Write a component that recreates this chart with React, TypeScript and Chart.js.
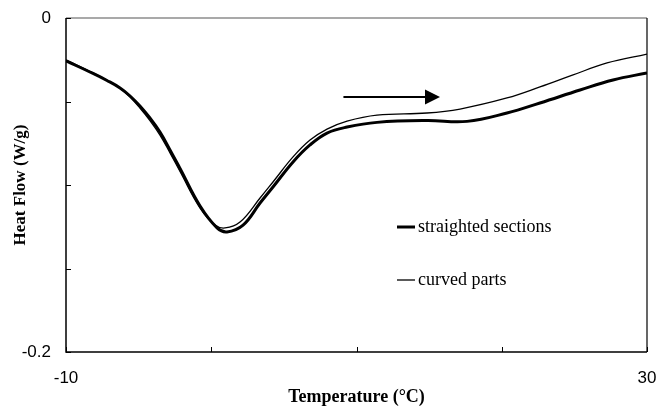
import { useEffect, useRef } from "react";
import { Chart, registerables } from "chart.js";
Chart.register(...registerables);

const tempStraight = [-10, -8.14, -7.18, -6.28, -5.59, -4.91, -4.22, -3.53, -2.84, -2.15, -0.77, 0.4, 1.08, 2.19, 3.36, 4.25, 5.63, 6.8, 7.97, 9.35, 11.41, 14.85, 17.61, 20.36, 22.63, 25.39, 27.66, 30];
const flowStraight = [-0.0257, -0.0332, -0.0374, -0.0419, -0.0467, -0.0527, -0.0599, -0.0683, -0.079, -0.0901, -0.1126, -0.1257, -0.1281, -0.124, -0.1108, -0.1012, -0.0862, -0.076, -0.0689, -0.0653, -0.0625, -0.0614, -0.0619, -0.0569, -0.0509, -0.0431, -0.0371, -0.0329];
const tempCurved = [-10, -8.14, -7.18, -6.28, -5.59, -4.91, -4.22, -3.53, -2.84, -2.15, -0.77, 0.26, 0.95, 1.98, 3.36, 4.25, 5.63, 6.8, 7.97, 9.35, 11.41, 14.85, 17.13, 20.36, 22.63, 24.91, 27.25, 30];
const flowCurved = [-0.0251, -0.0329, -0.0373, -0.042, -0.0473, -0.0539, -0.0614, -0.0701, -0.0808, -0.0919, -0.1138, -0.124, -0.1257, -0.1222, -0.1078, -0.0982, -0.0832, -0.0731, -0.0665, -0.0617, -0.0581, -0.0569, -0.0545, -0.0479, -0.0413, -0.0341, -0.0269, -0.0216];
const seriesNames = ["straighted sections", "curved parts"];
const xTickLabels = [-10, 30];
const yTickLabels = [0, -0.2];
const arrowStart = { x: 9.1, y: -0.0473 };
const arrowEnd = { x: 15.75, y: -0.0473 };

const serif = "'Liberation Serif', 'Times New Roman', serif";
const sans = "'Liberation Sans', Arial, sans-serif";

const decorPlugin = {
  id: "decor",
  afterDatasetsDraw(chart: any) {
    const { ctx, chartArea: a, scales } = chart;
    const xs = scales.x, ys = scales.y;
    ctx.save();
    ctx.lineCap = "butt";
    ctx.strokeStyle = "#8c8c8c";
    ctx.lineWidth = 1.5;
    ctx.beginPath(); ctx.moveTo(a.left, a.top); ctx.lineTo(a.right, a.top); ctx.stroke();
    ctx.strokeStyle = "#000";
    ctx.lineWidth = 1.2;
    ctx.beginPath(); ctx.moveTo(a.right, a.top); ctx.lineTo(a.right, a.bottom); ctx.stroke();
    ctx.lineWidth = 1.5;
    ctx.beginPath(); ctx.moveTo(a.left, a.top); ctx.lineTo(a.left, a.bottom); ctx.lineTo(a.right, a.bottom); ctx.stroke();
    ctx.lineWidth = 1;
    for (let v = -0.2; v <= 0.0001; v += 0.05) {
      const py = Math.round(ys.getPixelForValue(v)) + 0.5;
      ctx.beginPath(); ctx.moveTo(a.left, py); ctx.lineTo(a.left + 5, py); ctx.stroke();
    }
    for (let v = -10; v <= 30; v += 10) {
      const px = Math.round(xs.getPixelForValue(v)) + 0.5;
      ctx.beginPath(); ctx.moveTo(px, a.bottom); ctx.lineTo(px, a.bottom - 5); ctx.stroke();
    }
    const x0 = xs.getPixelForValue(arrowStart.x);
    const x1 = xs.getPixelForValue(arrowEnd.x);
    const y0 = ys.getPixelForValue(arrowStart.y);
    ctx.lineWidth = 2;
    ctx.beginPath(); ctx.moveTo(x0, y0); ctx.lineTo(x1 - 14, y0); ctx.stroke();
    ctx.fillStyle = "#000";
    ctx.beginPath(); ctx.moveTo(x1, y0); ctx.lineTo(x1 - 15, y0 - 7.5); ctx.lineTo(x1 - 15, y0 + 7.5); ctx.closePath(); ctx.fill();
    const lx = a.left + 331, ly1 = a.top + 209, ly2 = a.top + 262;
    ctx.lineWidth = 3;
    ctx.beginPath(); ctx.moveTo(lx, ly1); ctx.lineTo(lx + 18, ly1); ctx.stroke();
    ctx.lineWidth = 1.3;
    ctx.beginPath(); ctx.moveTo(lx, ly2); ctx.lineTo(lx + 18, ly2); ctx.stroke();
    ctx.font = `18px ${serif}`;
    ctx.textBaseline = "middle";
    ctx.textAlign = "left";
    ctx.fillText(seriesNames[0], lx + 21, ly1);
    ctx.fillText(seriesNames[1], lx + 21, ly2);
    ctx.restore();
  },
};

export default function App() {
  const ref = useRef<HTMLCanvasElement>(null);
  useEffect(() => {
    document.body.style.margin = "0";
    const chart = new Chart(ref.current!, {
      type: "scatter",
      data: {
        datasets: [
          {
            label: seriesNames[0],
            data: tempStraight.map((x, i) => ({ x, y: flowStraight[i] })),
            showLine: true,
            borderColor: "#000",
            borderWidth: 3,
            pointRadius: 0,
            tension: 0.4,
          },
          {
            label: seriesNames[1],
            data: tempCurved.map((x, i) => ({ x, y: flowCurved[i] })),
            showLine: true,
            borderColor: "#000",
            borderWidth: 1.3,
            pointRadius: 0,
            tension: 0.4,
          },
        ],
      },
      options: {
        responsive: false,
        animation: false,
        layout: { padding: { top: 18, right: 24, left: 0, bottom: 0 } },
        plugins: { legend: { display: false }, tooltip: { enabled: false } },
        scales: {
          x: {
            type: "linear",
            min: -10,
            max: 30,
            afterFit: (s: any) => { s.height = 58; s.paddingLeft = 0; s.paddingRight = 0; },
            afterBuildTicks: (s: any) => { s.ticks = xTickLabels.map((v) => ({ value: v })); },
            ticks: { color: "#000", font: { family: sans, size: 17 }, padding: 16, maxRotation: 0, callback: (v: any) => String(v) },
            grid: { display: false, drawTicks: false },
            border: { display: false },
            title: { display: true, text: "Temperature (°C)", color: "#000", font: { family: serif, size: 18, weight: "bold" }, padding: { top: 0, bottom: 2 } },
          },
          y: {
            type: "linear",
            min: -0.2,
            max: 0,
            afterFit: (s: any) => { s.width = 66; s.paddingTop = 0; s.paddingBottom = 0; },
            afterBuildTicks: (s: any) => { s.ticks = yTickLabels.map((v) => ({ value: v })); },
            ticks: { color: "#000", font: { family: sans, size: 17 }, padding: 15, callback: (v: any) => String(v) },
            grid: { display: false, drawTicks: false },
            border: { display: false },
            title: { display: true, text: "Heat Flow (W/g)", color: "#000", font: { family: serif, size: 17, weight: "bold" }, padding: { top: 10, bottom: 0 } },
          },
        },
      },
      plugins: [decorPlugin],
    } as any);
    return () => chart.destroy();
  }, []);
  return <canvas ref={ref} width={671} height={410} style={{ display: "block" }} />;
}
